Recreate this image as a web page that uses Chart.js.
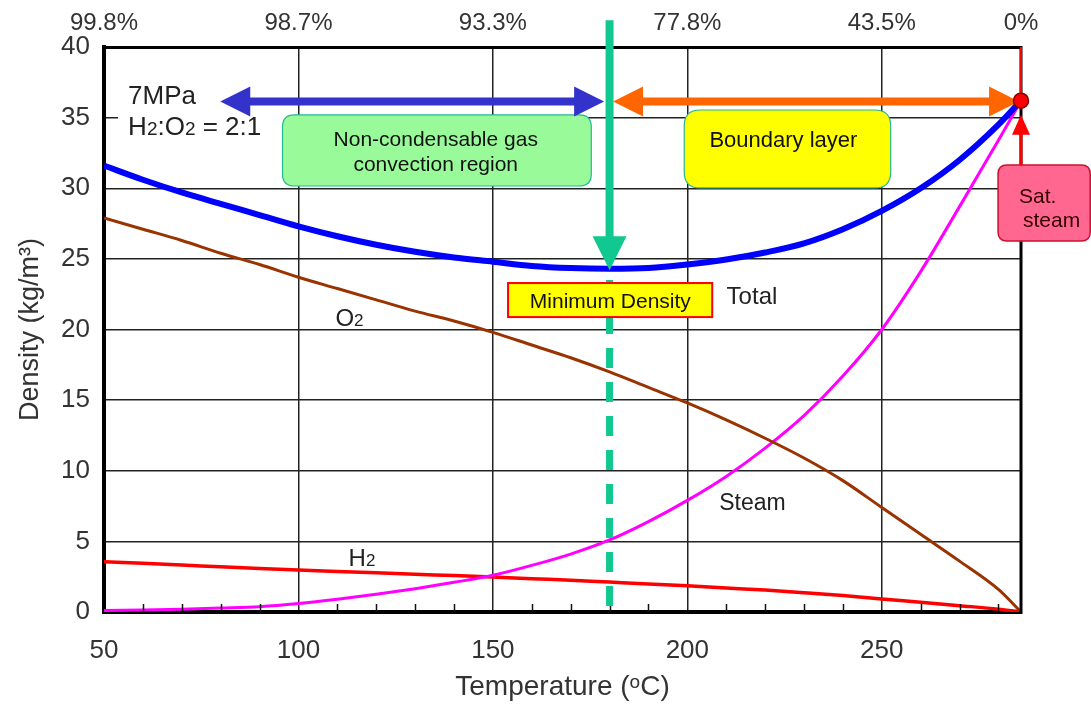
<!DOCTYPE html>
<html>
<head>
<meta charset="utf-8">
<script src="https://cdn.jsdelivr.net/npm/chart.js@4.4.1/dist/chart.umd.min.js"></script>
<style>
html,body{margin:0;padding:0;background:#fff;}
#wrap{width:1091px;height:704px;}
</style>
</head>
<body>
<div id="wrap"><canvas id="c" width="1091" height="704"></canvas></div>
<script>
// ---------------- data ----------------
const temperatures = [50,60,70,80,90,100,110,120,130,140,150,160,170,180,190,200,210,220,230,240,250,260,270,280,285.8];
const totalDensity = [31.6,30.6,29.7,28.9,28.1,27.3,26.6,26.0,25.5,25.1,24.8,24.5,24.35,24.3,24.35,24.6,24.95,25.45,26.1,27.1,28.4,30.0,32.0,34.5,36.2];
const o2Density    = [27.9,27.1,26.3,25.4,24.6,23.7,22.9,22.1,21.3,20.6,19.8,18.9,18.0,17.0,15.9,14.8,13.6,12.3,10.9,9.3,7.4,5.5,3.6,1.6,0];
const steamDensity = [0.1,0.15,0.2,0.28,0.38,0.6,0.9,1.25,1.65,2.1,2.6,3.3,4.1,5.1,6.4,7.9,9.6,11.6,13.9,16.7,20.0,24.1,28.7,33.4,36.2];
const h2Density    = [3.55,3.45,3.33,3.2,3.08,2.97,2.87,2.77,2.67,2.58,2.48,2.36,2.25,2.12,1.99,1.85,1.7,1.55,1.37,1.17,0.92,0.69,0.45,0.2,0];

const bottomTickValues = [50,100,150,200,250];
const topTickTemps  = [50,100,150,200,250,285.8];
const topTickLabels = ['99.8%','98.7%','93.3%','77.8%','43.5%','0%'];

const minTemp = 180;        // minimum density temperature
const satTemp = 285.8;      // saturation temperature at 7 MPa
const satDensity = 36.2;    // density at saturation point

// ---------------- annotation placement (data units) ----------------
const FONT = "'Liberation Sans', Arial, Helvetica, sans-serif";
const annot = {
  whiteCover: {x0:53.6, x1:99.0, y0:37.7, y1:33.4},
  greenBox:   {x0:95.9, x1:175.3, y0:35.19, y1:30.16},
  yellowBox:  {x0:199.2, x1:252.3, y0:35.54, y1:30.02},
  minBox:     {x0:153.9, x1:206.4, y0:23.29, y1:20.88},
  satBox:     {x0:279.9, x1:303.6, y0:31.65, y1:26.27},
  blueArrow:  {x0:79.9, x1:178.6, y:36.14},
  orangeArrow:{x0:180.9, x1:285.3, y:36.14},
  greenArrow: {x:minTemp, yTop:41.9, yTip:24.2},
  greenDash:  {x:minTemp, y0:23.5, y1:0},
  redArrow:   {x:satTemp, yTip:35.2, yBase:31.65}
};

const pts = arr => temperatures.map((t,i)=>({x:t, y:arr[i]}));

function roundRect(ctx,x,y,w,h,r){
  ctx.beginPath();
  ctx.moveTo(x+r,y);
  ctx.lineTo(x+w-r,y); ctx.quadraticCurveTo(x+w,y,x+w,y+r);
  ctx.lineTo(x+w,y+h-r); ctx.quadraticCurveTo(x+w,y+h,x+w-r,y+h);
  ctx.lineTo(x+r,y+h); ctx.quadraticCurveTo(x,y+h,x,y+h-r);
  ctx.lineTo(x,y+r); ctx.quadraticCurveTo(x,y,x+r,y);
  ctx.closePath();
}
function head(ctx,tx,ty,dx,dy,len,hw,color){
  const nx=-dy, ny=dx;
  ctx.beginPath();
  ctx.moveTo(tx,ty);
  ctx.lineTo(tx-dx*len+nx*hw, ty-dy*len+ny*hw);
  ctx.lineTo(tx-dx*len-nx*hw, ty-dy*len-ny*hw);
  ctx.closePath();
  ctx.fillStyle=color; ctx.fill();
}
// parts: [[text, 'n'|'sub']]; y = visual centre of capitals
function rich(ctx,parts,x,y,size,color,align){
  ctx.save();
  ctx.fillStyle=color; ctx.textBaseline='alphabetic'; ctx.textAlign='left';
  const fs = k => (k==='sub'? Math.round(size*0.72) : size)+'px '+FONT;
  const ws = parts.map(([t,k])=>{ctx.font=fs(k);return ctx.measureText(t).width;});
  const tot = ws.reduce((a,b)=>a+b,0);
  let cx = align==='center'? x-tot/2 : x;
  const base = y + size*0.36;
  parts.forEach(([t,k],i)=>{ctx.font=fs(k); ctx.fillText(t,cx,base); cx+=ws[i];});
  ctx.restore();
}

const annotationPlugin = {
  id:'densityAnnotations',
  afterDraw(chart){
    const ctx = chart.ctx, sx = chart.scales.x, sy = chart.scales.y, ca = chart.chartArea;
    const X = v => sx.getPixelForValue(v), Y = v => sy.getPixelForValue(v);
    ctx.save();

    // minor ticks on the temperature axis
    ctx.strokeStyle='#111'; ctx.lineWidth=1.5;
    for(let t=60;t<satTemp;t+=10){
      if(t%50===0) continue;
      const px=Math.round(X(t))+0.5;
      ctx.beginPath(); ctx.moveTo(px,ca.bottom); ctx.lineTo(px,ca.bottom-8); ctx.stroke();
    }
    // right frame
    ctx.strokeStyle='#000'; ctx.lineWidth=3;
    ctx.beginPath(); ctx.moveTo(ca.right,ca.top-1); ctx.lineTo(ca.right,ca.bottom+2); ctx.stroke();
    ctx.strokeStyle='#ff0000'; ctx.lineWidth=2;
    ctx.beginPath(); ctx.moveTo(ca.right,ca.top); ctx.lineTo(ca.right,Y(satDensity)); ctx.stroke();

    // white cover behind the condition text
    const wc=annot.whiteCover;
    ctx.fillStyle='#fff';
    ctx.fillRect(X(wc.x0),Y(wc.y0),X(wc.x1)-X(wc.x0),Y(wc.y1)-Y(wc.y0));

    // green region box
    let b=annot.greenBox;
    roundRect(ctx,X(b.x0),Y(b.y0),X(b.x1)-X(b.x0),Y(b.y1)-Y(b.y0),12);
    ctx.fillStyle='#99fa99'; ctx.fill(); ctx.strokeStyle='#22b894'; ctx.lineWidth=1.2; ctx.stroke();
    // yellow boundary-layer box
    b=annot.yellowBox;
    roundRect(ctx,X(b.x0),Y(b.y0),X(b.x1)-X(b.x0),Y(b.y1)-Y(b.y0),16);
    ctx.fillStyle='#ffff00'; ctx.fill(); ctx.strokeStyle='#22b894'; ctx.lineWidth=1.2; ctx.stroke();

    // green dashed line below the minimum
    const gd=annot.greenDash;
    ctx.strokeStyle='#10c890'; ctx.lineWidth=7; ctx.setLineDash([20,14]); ctx.lineCap='butt';
    ctx.beginPath(); ctx.moveTo(X(gd.x),Y(gd.y0)); ctx.lineTo(X(gd.x),Y(gd.y1)); ctx.stroke();
    ctx.setLineDash([]);
    // green vertical arrow
    const ga=annot.greenArrow;
    const gx=X(ga.x), gTip=Y(ga.yTip);
    ctx.lineWidth=8;
    ctx.beginPath(); ctx.moveTo(gx,Y(ga.yTop)); ctx.lineTo(gx,gTip-30); ctx.stroke();
    head(ctx,gx,gTip,0,1,34,17,'#10c890');

    // blue double arrow
    const ba=annot.blueArrow, by=Y(ba.y);
    ctx.strokeStyle='#3333cc'; ctx.lineWidth=8;
    ctx.beginPath(); ctx.moveTo(X(ba.x0)+25,by); ctx.lineTo(X(ba.x1)-25,by); ctx.stroke();
    head(ctx,X(ba.x0),by,-1,0,30,15,'#3333cc');
    head(ctx,X(ba.x1),by,1,0,30,15,'#3333cc');
    // orange double arrow
    const oa=annot.orangeArrow;
    ctx.strokeStyle='#ff6600'; ctx.lineWidth=8;
    ctx.beginPath(); ctx.moveTo(X(oa.x0)+25,by); ctx.lineTo(X(oa.x1)-25,by); ctx.stroke();
    head(ctx,X(oa.x0),by,-1,0,30,15,'#ff6600');
    head(ctx,X(oa.x1),by,1,0,30,15,'#ff6600');

    // minimum density box
    b=annot.minBox;
    ctx.fillStyle='#ffff00';
    ctx.fillRect(X(b.x0),Y(b.y0),X(b.x1)-X(b.x0),Y(b.y1)-Y(b.y0));
    ctx.strokeStyle='#ff0000'; ctx.lineWidth=2;
    ctx.strokeRect(X(b.x0),Y(b.y0),X(b.x1)-X(b.x0),Y(b.y1)-Y(b.y0));

    // saturated steam box and red arrow
    b=annot.satBox;
    roundRect(ctx,X(b.x0),Y(b.y0),X(b.x1)-X(b.x0),Y(b.y1)-Y(b.y0),9);
    ctx.fillStyle='#ff6690'; ctx.fill(); ctx.strokeStyle='#cc1030'; ctx.lineWidth=1.5; ctx.stroke();
    const ra=annot.redArrow, rx=X(ra.x);
    ctx.strokeStyle='#ff0000'; ctx.lineWidth=3;
    ctx.beginPath(); ctx.moveTo(rx,Y(ra.yBase)); ctx.lineTo(rx,Y(ra.yTip)+15); ctx.stroke();
    head(ctx,rx,Y(ra.yTip),0,-1,20,9,'#ff0000');
    // saturation point
    ctx.beginPath(); ctx.arc(X(satTemp),Y(satDensity),7.5,0,Math.PI*2);
    ctx.fillStyle='#ff0000'; ctx.fill(); ctx.strokeStyle='#880000'; ctx.lineWidth=1.5; ctx.stroke();

    // texts
    const tc='#222';
    rich(ctx,[['7MPa','n']],X(56.2),Y(36.6),26,tc,'left');
    rich(ctx,[['H','n'],['2','sub'],[':O','n'],['2','sub'],[' = 2:1','n']],X(56.2),Y(34.41),26,tc,'left');
    rich(ctx,[['Non-condensable gas','n']],X(135.3),Y(33.56),21,'#111','center');
    rich(ctx,[['convection region','n']],X(135.3),Y(31.79),21,'#111','center');
    rich(ctx,[['Boundary layer','n']],X(224.7),Y(33.49),22,'#111','center');
    rich(ctx,[['Minimum Density','n']],X(180.2),Y(22.09),21,'#111','center');
    rich(ctx,[['Total','n']],X(210.1),Y(22.44),24,tc,'left');
    rich(ctx,[['O','n'],['2','sub']],X(109.5),Y(20.88),24,tc,'left');
    rich(ctx,[['H','n'],['2','sub']],X(112.9),Y(3.89),24,tc,'left');
    rich(ctx,[['Steam','n']],X(208.2),Y(7.79),23,tc,'left');
    rich(ctx,[['Sat.','n']],X(285.3),Y(29.52),21,'#300','left');
    rich(ctx,[['steam','n']],X(286.3),Y(27.82),21,'#300','left');
    ctx.restore();
  }
};

const tickColor='#333';
new Chart(document.getElementById('c'),{
  type:'line',
  data:{datasets:[
    {label:'Total', data:pts(totalDensity), borderColor:'#0000ff', borderWidth:6, xAxisID:'x', yAxisID:'y'},
    {label:'O2', data:pts(o2Density), borderColor:'#993300', borderWidth:3, xAxisID:'x', yAxisID:'y'},
    {label:'Steam', data:pts(steamDensity), borderColor:'#ff00ff', borderWidth:3, xAxisID:'x', yAxisID:'y'},
    {label:'H2', data:pts(h2Density), borderColor:'#ff0000', borderWidth:3.5, xAxisID:'x', yAxisID:'y'}
  ]},
  options:{
    responsive:false, animation:false,
    layout:{padding:{left:0,right:70,top:0,bottom:0}},
    plugins:{legend:{display:false}, tooltip:{enabled:false}},
    elements:{point:{radius:0}, line:{cubicInterpolationMode:'monotone', fill:false}},
    scales:{
      x:{type:'linear', position:'bottom', min:50, max:satTemp,
        afterBuildTicks:s=>{s.ticks=bottomTickValues.map(v=>({value:v}));},
        ticks:{font:{family:FONT,size:26}, color:tickColor, padding:23, maxRotation:0, autoSkip:false},
        grid:{color:'#222', lineWidth:1.5, drawTicks:false},
        border:{color:'#000', width:4},
        title:{display:true, text:'Temperature (ᵒC)', font:{family:FONT,size:28}, color:tickColor, padding:{top:0,bottom:0}},
        afterFit:s=>{s.height=92;}
      },
      x2:{type:'linear', position:'top', min:50, max:satTemp,
        afterBuildTicks:s=>{s.ticks=topTickTemps.map(v=>({value:v}));},
        ticks:{callback:(v,i)=>topTickLabels[i], font:{family:FONT,size:24}, color:tickColor, padding:9, maxRotation:0, autoSkip:false},
        grid:{display:false, drawTicks:false},
        border:{color:'#000', width:3},
        afterFit:s=>{s.height=47;}
      },
      y:{type:'linear', min:0, max:40,
        ticks:{stepSize:5, font:{family:FONT,size:26}, color:tickColor, padding:14},
        grid:{color:'#222', lineWidth:1.5, drawTicks:false},
        border:{color:'#000', width:4},
        title:{display:true, text:'Density (kg/m³)', font:{family:FONT,size:27}, color:tickColor, padding:{top:14,bottom:0}},
        afterFit:s=>{s.width=104;}
      }
    }
  },
  plugins:[annotationPlugin]
});
</script>
</body>
</html>
